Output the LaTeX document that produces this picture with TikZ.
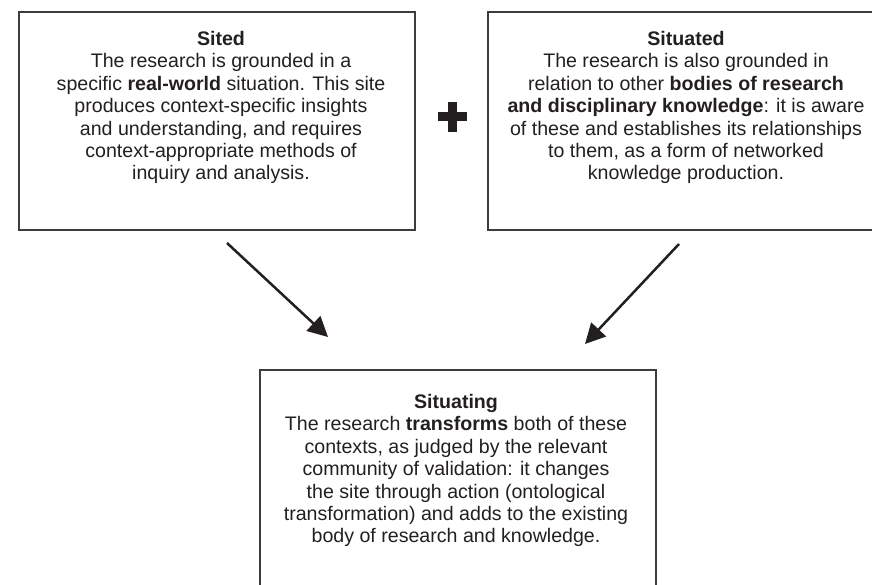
\documentclass[tikz,border=0pt]{standalone}
\usepackage{fontspec}
\setmainfont{Liberation Sans}
\usetikzlibrary{arrows.meta}
\definecolor{ink}{HTML}{231F20}
\definecolor{frame}{HTML}{3C3C3C}
\begin{document}
\begin{tikzpicture}[x=1pt,y=-1pt,
  panel/.style={draw=frame,line width=2pt,minimum width=396pt,minimum height=218pt,anchor=north west,inner sep=0pt},
  blurb/.style={text=ink,align=center,anchor=north,inner sep=0pt,font=\fontsize{19.6}{22.4}\selectfont},
  flow/.style={draw=ink,line width=2.5pt,-{Triangle[length=20pt,width=20pt]}}]
\useasboundingbox (0,0) rectangle (872,585);
\clip (0,0) rectangle (872,585);

% the three panels
\node[panel] (sited) at (18,11) {};
\node[panel] (situated) at (487,11) {};
\node[panel] (situating) at (259,369) {};

% panel texts
\node[blurb] (sitedtext) at (221,31) {\textbf{Sited}\\
The research is grounded in a\\
specific \textbf{real-world} situation. This site\\
produces context-specific insights\\
and understanding, and requires\\
context-appropriate methods of\\
inquiry and analysis.};

\node[blurb] (situatedtext) at (686,31) {\textbf{Situated}\\
The research is also grounded in\\
relation to other \textbf{bodies of research}\\
\textbf{and disciplinary knowledge}: it is aware\\
of these and establishes its relationships\\
to them, as a form of networked\\
knowledge production.};

\node[blurb] (situatingtext) at (456,394) {\textbf{Situating}\\
The research \textbf{transforms} both of these\\
contexts, as judged by the relevant\\
community of validation: it changes\\
the site through action (ontological\\
transformation) and adds to the existing\\
body of research and knowledge.};

% plus sign between the upper panels
\fill[ink] (437.5,112.5) rectangle (466.5,121.5);
\fill[ink] (447.5,102) rectangle (456.5,132);

% arrows into the lower panel
\coordinate (fromsited) at (227,243);
\coordinate (intositing) at (328,337);
\coordinate (fromsituated) at (679,244);
\coordinate (intosituating) at (585,344);
\draw[flow] (fromsited) -- (intositing);
\draw[flow] (fromsituated) -- (intosituating);
\end{tikzpicture}
\end{document}
